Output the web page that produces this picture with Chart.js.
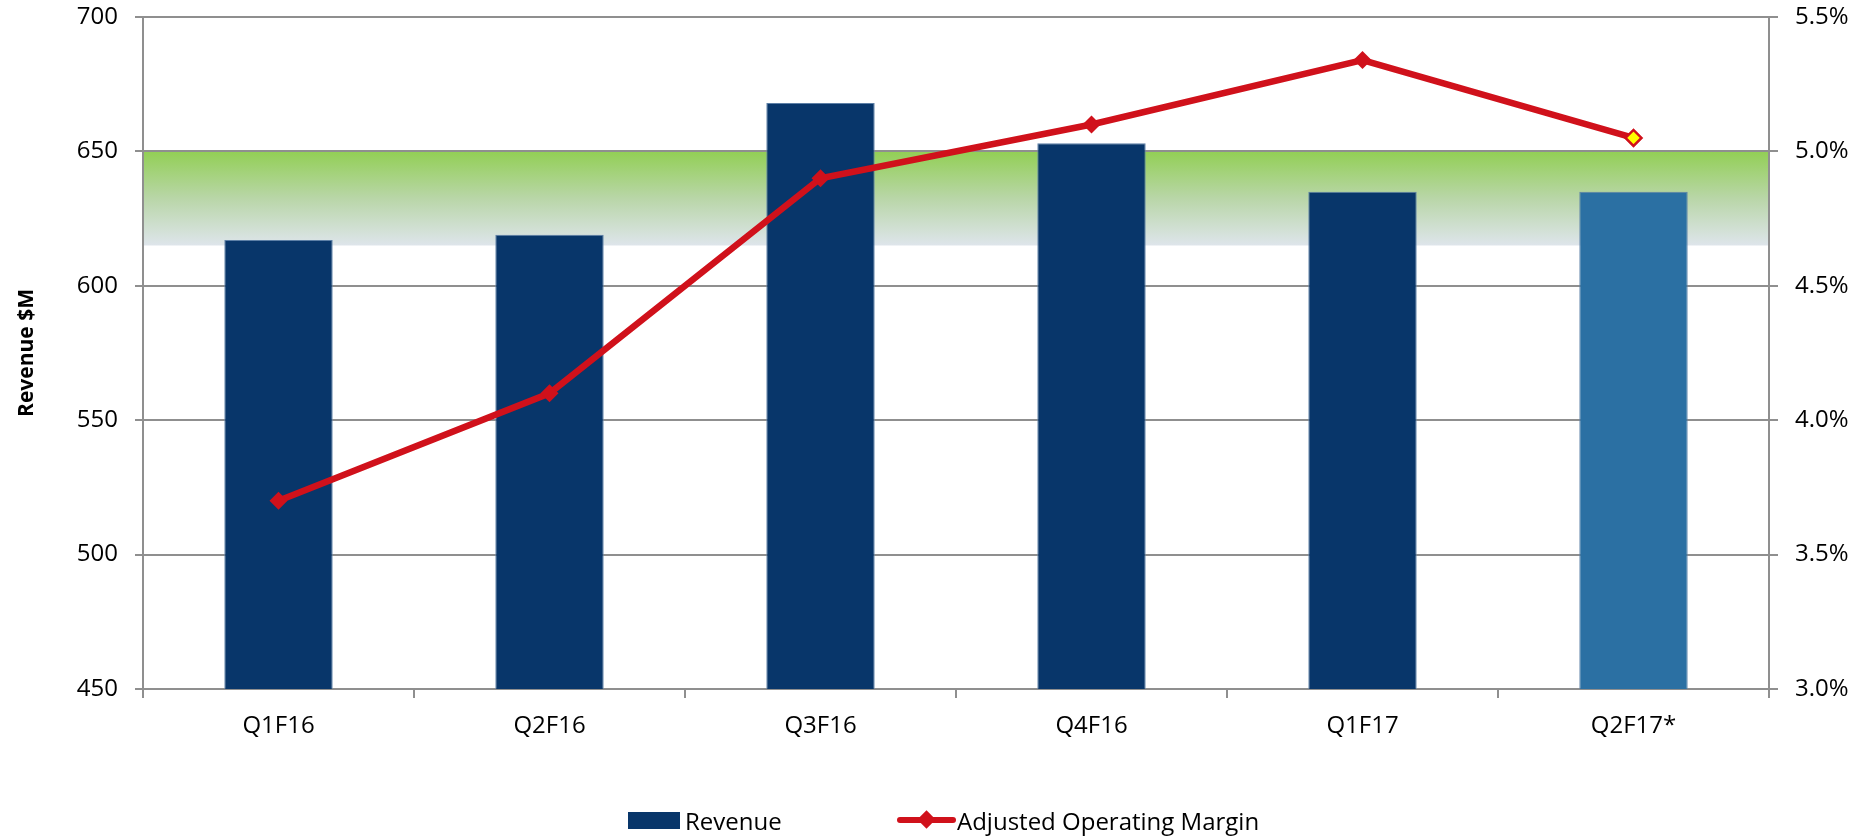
<!DOCTYPE html>
<html>
<head>
<meta charset="utf-8">
<title>Revenue and Adjusted Operating Margin</title>
<script src="https://cdn.jsdelivr.net/npm/chart.js@4.4.1/dist/chart.umd.min.js"></script>
<style>
    html, body { margin: 0; padding: 0; background: #fff; }
    #wrap { position: relative; width: 1862px; height: 838px; font-family: "Open Sans", sans-serif; }
    #chart { position: absolute; left: 0; top: 0; }
    .legend-item { position: absolute; top: 805px; height: 30px; display: flex; align-items: center; font-size: 24px; color: #000; white-space: nowrap; }
    .swatch-bar { width: 52px; height: 17px; background: #08366A; margin-right: 5px; }
    .swatch-line { position: relative; width: 59px; height: 6px; background: #D0111B; border-radius: 3px; margin-right: 1px; }
    .swatch-line::after { content: ''; position: absolute; left: 23px; top: -4px; width: 13px; height: 13px; background: #D0111B; transform: rotate(45deg); }
</style>
</head>
<body>
<div id="wrap">
    <canvas id="chart" width="1862" height="838"></canvas>
    <div class="legend-item" style="left:628px"><span class="swatch-bar"></span>Revenue</div>
    <div class="legend-item" style="left:897px"><span class="swatch-line"></span>Adjusted Operating Margin</div>
</div>
<script>
// Chart data
const quarters = ['Q1F16', 'Q2F16', 'Q3F16', 'Q4F16', 'Q1F17', 'Q2F17*'];
const revenue = [617, 619, 668, 653, 635, 635];
const operatingMargin = [3.70, 4.10, 4.90, 5.10, 5.34, 5.05];
const revenueTicks = [450, 500, 550, 600, 650, 700];
const marginTicks = [3.0, 3.5, 4.0, 4.5, 5.0, 5.5];
// target range shaded behind the bars
const targetHigh = 650;
const targetLow = 615;

Chart.defaults.font.family = '"Open Sans", sans-serif';
Chart.defaults.font.size = 24;
Chart.defaults.color = '#000';

const gridColor = '#8f8f8f';

// Green target band, drawn before the grid so grid lines sit on top
const targetBand = {
    id: 'targetBand',
    beforeDraw(chart) {
        const ctx = chart.ctx;
        const area = chart.chartArea;
        const y = chart.scales.y;
        const top = y.getPixelForValue(targetHigh);
        const bottom = y.getPixelForValue(targetLow);
        const grad = ctx.createLinearGradient(0, top, 0, bottom);
        grad.addColorStop(0, '#92CF55');
        grad.addColorStop(0.5, '#B9D6A8');
        grad.addColorStop(1, '#DEE5EB');
        ctx.save();
        ctx.fillStyle = grad;
        ctx.fillRect(area.left, top, area.right - area.left, bottom - top);
        ctx.restore();
    }
};

// keep the plot area exactly where the reference has it
function fixVertical(width) {
    return function(scale) {
        scale.width = width;
        scale.paddingTop = 0;
        scale.paddingBottom = 0;
    };
}

const ctx = document.getElementById('chart').getContext('2d');
const chart = new Chart(ctx, {
    type: 'bar',
    data: {
        labels: quarters,
        datasets: [{
            type: 'line',
            label: 'Adjusted Operating Margin',
            data: operatingMargin,
            yAxisID: 'y1',
            borderColor: '#D0111B',
            borderWidth: 6.5,
            pointStyle: 'rectRot',
            pointRadius: [9, 9, 9, 9, 9, 8],
            pointBackgroundColor: ['#D0111B', '#D0111B', '#D0111B', '#D0111B', '#D0111B', '#FFFF00'],
            pointBorderColor: '#D0111B',
            pointBorderWidth: [0, 0, 0, 0, 0, 2.5],
            tension: 0,
            order: 0
        }, {
            label: 'Revenue',
            data: revenue,
            yAxisID: 'y',
            backgroundColor: ['#08366A', '#08366A', '#08366A', '#08366A', '#08366A', '#2B70A3'],
            borderColor: '#5C7FA6',
            borderWidth: 1,
            categoryPercentage: 1,
            barPercentage: 0.4,
            order: 1
        }]
    },
    options: {
        responsive: false,
        animation: false,
        layout: { padding: { top: 17, bottom: 0, left: 0, right: 0 } },
        plugins: {
            legend: { display: false },
            tooltip: { enabled: false }
        },
        scales: {
            x: {
                grid: { drawOnChartArea: false, color: gridColor, lineWidth: 2, tickLength: 9 },
                border: { color: gridColor, width: 2 },
                ticks: { padding: 14 },
                afterFit(scale) { scale.height = 149; }
            },
            y: {
                position: 'left',
                min: 450,
                max: 700,
                afterBuildTicks(scale) { scale.ticks = revenueTicks.map(v => ({ value: v })); },
                grid: { color: gridColor, lineWidth: 2, tickLength: 8 },
                border: { color: gridColor, width: 2 },
                ticks: { padding: 17 },
                title: { display: true, text: 'Revenue $M', font: { size: 21, weight: 'bold' }, padding: { top: 14, bottom: 0 } },
                afterFit: fixVertical(143)
            },
            y1: {
                position: 'right',
                min: 3.0,
                max: 5.5,
                afterBuildTicks(scale) { scale.ticks = marginTicks.map(v => ({ value: v })); },
                grid: { drawOnChartArea: false, color: gridColor, lineWidth: 2, tickLength: 9 },
                border: { color: gridColor, width: 2 },
                ticks: { padding: 17, callback: v => v.toFixed(1) + '%' },
                afterFit: fixVertical(93)
            }
        }
    },
    plugins: [targetBand]
});
</script>
</body>
</html>
